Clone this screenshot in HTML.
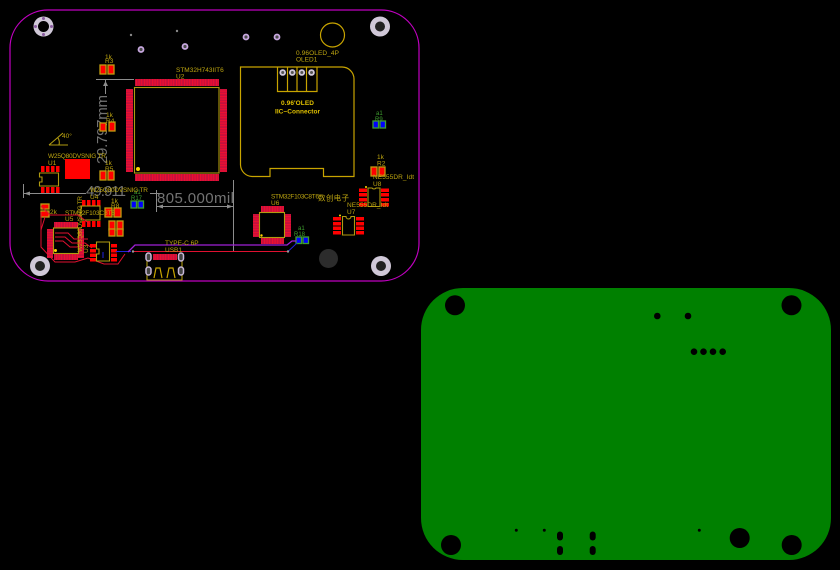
<!DOCTYPE html>
<html><head><meta charset="utf-8"><style>
html,body{margin:0;padding:0;background:#000;width:840px;height:570px;overflow:hidden}
svg{display:block}
text{font-family:"Liberation Sans","Noto Sans CJK SC",sans-serif;font-size:6.5px;fill:#bda510}
.g{fill:#737373;font-size:15px}
.l{stroke:#b09a10;fill:none;stroke-width:1.1}
.o{stroke:#c8a400;fill:none;stroke-width:1.2}
.r{fill:#f00}
.p{fill:#f00;stroke:#c09c10;stroke-width:1.300}
.b{fill:#00f;stroke:#3f9f2f;stroke-width:1.300}
.gr{fill:#3f9f2f;font-size:6px}
.v{fill:#4a4a4a;stroke:#c8a8e0;stroke-width:1.800}
.m{fill:#000}
.lil{fill:#d0c8d8}
</style></head><body>
<svg width="840" height="570" viewBox="0 0 840 570" xmlns="http://www.w3.org/2000/svg">
<defs>
<pattern id="h" width="2" height="1.6" patternUnits="userSpaceOnUse"><rect width="2" height="1.6" fill="#a01048"/><rect width="2" height="1.100" fill="#f01030"/></pattern>
<pattern id="w" width="1.6" height="2" patternUnits="userSpaceOnUse"><rect width="1.6" height="2" fill="#a01048"/><rect width="1.100" height="2" fill="#f01030"/></pattern>
</defs>
<rect width="840" height="570" fill="#000"/>

<!-- board outline -->
<rect x="10" y="10" width="409" height="271" rx="38" ry="38" fill="none" stroke="#c000c0" stroke-width="1.2"/>

<!-- mounting holes -->
<circle cx="43.5" cy="26.5" r="10" class="lil"/><circle cx="43.5" cy="26.5" r="5.500" class="m"/>
<g fill="#8a5aa0"><circle cx="43.5" cy="18.5" r="1.5"/><circle cx="43.5" cy="34.5" r="1.5"/><circle cx="35.5" cy="26.5" r="1.5"/><circle cx="51.5" cy="26.5" r="1.5"/></g>
<circle cx="380" cy="26.5" r="10" class="lil"/><circle cx="380" cy="26.5" r="5" fill="#222"/>
<circle cx="40" cy="266" r="10" class="lil"/><circle cx="40" cy="266" r="5" fill="#222"/>
<circle cx="381" cy="266" r="10" class="lil"/><circle cx="381" cy="266" r="5" fill="#222"/>
<circle cx="328.5" cy="258.5" r="9.5" fill="#2c2c2c"/>

<!-- vias -->
<circle cx="141" cy="49.5" r="2.500" class="v"/><circle cx="185" cy="46.5" r="2.500" class="v"/>
<circle cx="246" cy="37" r="2.500" class="v"/><circle cx="277" cy="37" r="2.500" class="v"/>
<circle cx="131" cy="35" r="1.2" fill="#888"/><circle cx="177" cy="31" r="1.2" fill="#888"/>

<!-- dimensions -->
<g stroke="#8c8c8c" stroke-width="1" fill="none">
<path d="M96 79.5H134M105.500 80V94"/>
<path d="M23.500 184V198M24 193.500H86M150 193.500H162"/>
<path d="M156.500 190V212M156 206.500H233M233.500 180V252"/>
</g>
<path d="M105.500 81l2.500 5h-5z" fill="#8c8c8c"/><path d="M24 193.500l6-2v4z" fill="#8c8c8c"/>
<path d="M157 206.500l6-2v4zM233 206.500l-6-2v4z" fill="#8c8c8c"/>
<text class="g" transform="translate(107,164) rotate(-90)" textLength="69">29.797mm</text>
<text class="g" x="86" y="196" textLength="40">49.911</text>
<text class="g" x="157" y="203" textLength="77">805.000mil</text>

<!-- angle -->
<path class="l" d="M49 145H68M49 145L63 133M58 138Q60 141 59 145"/>
<text x="62" y="138">40°</text>

<!-- U2 -->
<rect x="135" y="79" width="84" height="7" fill="url(#w)"/>
<rect x="135" y="174" width="84" height="7" fill="url(#w)"/>
<rect x="126" y="89" width="7" height="83" fill="url(#h)"/>
<rect x="220" y="89" width="7" height="83" fill="url(#h)"/>
<rect x="134.500" y="87.500" width="84.500" height="85.500" class="l"/>
<circle cx="138" cy="169" r="2" fill="#ffd800"/>
<text x="176" y="72">STM32H743IIT6</text><text x="176" y="78.500">U2</text>

<!-- resistors -->
<rect x="100" y="65" width="6" height="9" class="p"/><rect x="108" y="65" width="6" height="9" class="p"/>
<text x="105" y="59">1k</text><text x="105" y="63">R3</text>
<rect x="100" y="123" width="6" height="8" class="p"/><rect x="109" y="122" width="6" height="9" class="p"/>
<text x="106" y="117">1k</text><text x="106" y="123">R4</text>
<rect x="100" y="171" width="6" height="9" class="p"/><rect x="108" y="171" width="6" height="9" class="p"/>
<text x="105" y="165">1k</text><text x="105" y="171">R5</text>

<!-- U1 -->
<g class="r"><rect x="41" y="166" width="3.500" height="6"/><rect x="46" y="166" width="3.500" height="6"/><rect x="51" y="166" width="3.500" height="6"/><rect x="56" y="166" width="3.500" height="6"/>
<rect x="41" y="187" width="3.500" height="6"/><rect x="46" y="187" width="3.500" height="6"/><rect x="51" y="187" width="3.500" height="6"/><rect x="56" y="187" width="3.500" height="6"/></g>
<path class="l" d="M39.500 173H58.500V186H39.500V182H42V177H39.500Z"/>
<text x="48" y="158" textLength="58">W25Q80DVSNIG TR</text><text x="48" y="165">U1</text>
<rect x="65" y="159" width="25" height="20" class="r"/>

<!-- blue parts -->
<rect x="131" y="201" width="5.500" height="7" class="b"/><rect x="138" y="201" width="5.500" height="7" class="b"/>
<text class="gr" x="134" y="194">a1</text><text class="gr" x="131" y="200">R17</text>
<text x="90" y="192" textLength="58">W25Q80DVSNIG TR</text>
<rect x="373" y="121" width="5.500" height="7" class="b"/><rect x="380" y="121" width="5.500" height="7" class="b"/>
<text class="gr" x="376" y="115">a1</text><text class="gr" x="375" y="121">R9</text>
<rect x="296" y="237" width="5.500" height="6.500" class="b"/><rect x="303" y="237" width="5.500" height="6.500" class="b"/>
<text class="gr" x="298" y="230">a1</text><text class="gr" x="294" y="236">R18</text>

<!-- U4 -->
<g class="r"><rect x="82" y="200" width="3.500" height="6"/><rect x="87" y="200" width="3.500" height="6"/><rect x="92" y="200" width="3.500" height="6"/><rect x="97" y="200" width="3.500" height="6"/>
<rect x="82" y="221" width="3.500" height="6"/><rect x="87" y="221" width="3.500" height="6"/><rect x="92" y="221" width="3.500" height="6"/><rect x="97" y="221" width="3.500" height="6"/></g>
<rect x="81" y="206" width="19" height="14" class="l"/>
<text x="90" y="199">U4</text>

<!-- small R cluster -->
<rect x="105" y="208" width="7" height="9" class="p"/><rect x="114" y="208" width="7" height="9" class="p"/>
<text x="111" y="203">1k</text><text x="111" y="208">R8</text>
<rect x="109" y="221" width="6" height="9" class="p"/><rect x="117" y="221" width="6" height="9" class="p"/>
<rect x="109" y="229" width="6" height="7" class="p"/><rect x="117" y="229" width="6" height="7" class="p"/>

<!-- left small part -->
<rect x="41" y="204" width="8" height="5" class="p"/><rect x="41" y="211" width="8" height="6" class="p"/>
<text x="50" y="214">2k</text>
<text x="65" y="215" textLength="50">STM32F103C8T6</text><text x="65" y="221">U5</text>

<!-- U5 -->
<rect x="54" y="222" width="24" height="6" fill="url(#w)"/>
<rect x="54" y="254" width="24" height="6" fill="url(#w)"/>
<rect x="47" y="229" width="6" height="29" fill="url(#h)"/>
<rect x="78" y="229" width="6" height="29" fill="url(#h)"/>
<rect x="53.500" y="228" width="25" height="25.500" class="l"/>
<circle cx="55.500" cy="250.500" r="1.500" fill="#ffd800"/>
<text transform="translate(82,252) rotate(-90)" textLength="56">W25Q80DVSNIG TR</text>
<g stroke="#e01030" fill="none" stroke-width="1">
<path d="M41 212V247L55 262H75L88 258L104 264H118L125 254"/>
<path d="M41 206L50 215H78L90 224"/>
<path d="M55 237H65L72 243H85L92 248M55 233H68L74 239H88M55 241H63L70 247H78"/>
<path d="M45 217L41 230"/>
</g>

<!-- U3 -->
<g class="r"><rect x="90" y="244" width="6" height="3.500"/><rect x="90" y="249" width="6" height="3.500"/><rect x="90" y="253.500" width="6" height="3.500"/><rect x="90" y="258" width="6" height="3.500"/>
<rect x="111" y="244" width="6" height="3.500"/><rect x="111" y="249" width="6" height="3.500"/><rect x="111" y="253.500" width="6" height="3.500"/><rect x="111" y="258" width="6" height="3.500"/></g>
<path class="l" d="M96.500 242H109.500V261H96.500V254H99V249H96.500Z"/>
<text transform="translate(88,253) rotate(-90)">U3</text>
<path d="M116 251.500H131" stroke="#2020e0" stroke-width="1"/>
<path d="M103 252v6" stroke="#2020e0" stroke-width="1"/>

<!-- trunk traces -->
<path d="M128 252L135 245H287L292 241H296" fill="none" stroke="#a020d8" stroke-width="1.300"/>
<path d="M133 251.500H288" stroke="#e01030" stroke-width="1"/>
<path d="M288 251.500L297 243" stroke="#2020e0" stroke-width="1"/>
<circle cx="133" cy="251.500" r="1.200" fill="#999"/><circle cx="288" cy="251.500" r="1.200" fill="#999"/>

<!-- USB1 -->
<text x="165" y="245">TYPE-C 6P</text><text x="165" y="252">USB1</text>
<rect x="153" y="254" width="24" height="6" fill="url(#w)"/>
<path class="l" d="M147 260V280H182V260"/>
<path class="o" d="M154 278L156 268H160L162 278M167 278L169 268H173L175 278"/>
<g fill="#444" stroke="#c8b8d8" stroke-width="1.500"><rect x="146" y="253" width="5" height="8" rx="2.500"/><rect x="178.500" y="253" width="5" height="8" rx="2.500"/><rect x="146" y="267" width="5" height="8" rx="2.500"/><rect x="178.500" y="267" width="5" height="8" rx="2.500"/></g>

<!-- OLED -->
<circle cx="332.500" cy="35" r="12" class="o"/>
<text x="296" y="55" textLength="43">0.96OLED_4P</text><text x="296" y="61.500">OLED1</text>
<path class="o" d="M240.500 67H342A12 12 0 0 1 354 79V176.500H323.500V168.500H270V176.500H252A12 12 0 0 1 240.500 165Z"/>
<path class="o" d="M277.500 67V91.500H317V67M287.500 67V91.500M297 67V91.500M306.500 67V91.500"/>
<g class="lil"><circle cx="282.700" cy="72.500" r="3.300"/><circle cx="292.300" cy="72.500" r="3.300"/><circle cx="301.800" cy="72.500" r="3.300"/><circle cx="311.500" cy="72.500" r="3.300"/></g>
<g fill="#555"><circle cx="282.700" cy="72.500" r="1.500"/><circle cx="292.300" cy="72.500" r="1.500"/><circle cx="301.800" cy="72.500" r="1.500"/><circle cx="311.500" cy="72.500" r="1.500"/></g>
<text x="281" y="105" style="fill:#e0c000;font-weight:bold" textLength="33">0.96'OLED</text>
<text x="275" y="113.500" style="fill:#e0c000;font-weight:bold" textLength="45">IIC−Connector</text>

<!-- R2 -->
<rect x="371" y="167" width="6" height="9" class="p"/><rect x="379" y="167" width="6" height="9" class="p"/>
<text x="377" y="159">1k</text><text x="377" y="165.500">R2</text>

<!-- U8 -->
<g class="r"><rect x="359" y="188.500" width="8" height="3.500"/><rect x="359" y="193" width="8" height="3.500"/><rect x="359" y="198" width="8" height="3.500"/><rect x="359" y="203" width="8" height="3.500"/>
<rect x="381" y="188.500" width="8" height="3.500"/><rect x="381" y="193" width="8" height="3.500"/><rect x="381" y="198" width="8" height="3.500"/><rect x="381" y="203" width="8" height="3.500"/></g>
<path class="l" d="M368 188H372A2.500 2.500 0 0 0 376 188H380V206.500H368Z"/>
<circle cx="366" cy="187" r="1" fill="#ffd800"/>
<text x="373" y="179" textLength="41">NE555DR_Idt</text><text x="373" y="186">U8</text>

<!-- U7 -->
<g class="r"><rect x="333" y="217" width="8" height="3.500"/><rect x="333" y="222" width="8" height="3.500"/><rect x="333" y="226.500" width="8" height="3.500"/><rect x="333" y="231" width="8" height="3.500"/>
<rect x="356" y="217" width="8" height="3.500"/><rect x="356" y="222" width="8" height="3.500"/><rect x="356" y="226.500" width="8" height="3.500"/><rect x="356" y="231" width="8" height="3.500"/></g>
<path class="l" d="M342.500 216.500H346A2.500 2.500 0 0 0 351 216.500H354.500V235H342.500Z"/>
<circle cx="340" cy="215.500" r="1" fill="#ffd800"/>
<text x="347" y="207" textLength="41">NE555DR_Idt</text><text x="347" y="214">U7</text>

<!-- U6 -->
<rect x="261" y="206" width="23" height="6" fill="url(#w)"/>
<rect x="261" y="238" width="23" height="6" fill="url(#w)"/>
<rect x="253" y="214" width="6" height="23" fill="url(#h)"/>
<rect x="285" y="214" width="6" height="23" fill="url(#h)"/>
<rect x="259.500" y="212.500" width="25" height="25" class="l"/>
<circle cx="261.500" cy="235.500" r="1.200" fill="#ffd800"/>
<text x="271" y="198.500" textLength="48">STM32F103C8T6</text><text x="271" y="205">U6</text>
<text x="318" y="200.500" textLength="31" style="font-size:7.500px">数创电子</text>

<!-- green copper -->
<rect x="421" y="288" width="410" height="272" rx="42" ry="42" fill="#008000"/>
<g fill="#000">
<circle cx="455" cy="305.300" r="10"/><circle cx="791.500" cy="305.300" r="10"/>
<circle cx="451" cy="545" r="10"/><circle cx="791.700" cy="545" r="10"/><circle cx="739.700" cy="538" r="10"/>
<circle cx="657.300" cy="316" r="3.300"/><circle cx="688" cy="316" r="3.300"/>
<circle cx="694" cy="351.700" r="3.300"/><circle cx="703.500" cy="351.700" r="3.300"/><circle cx="713" cy="351.700" r="3.300"/><circle cx="722.700" cy="351.700" r="3.300"/>
<circle cx="516.300" cy="530.300" r="1.500"/><circle cx="544.300" cy="530.300" r="1.500"/><circle cx="699.300" cy="530.300" r="1.500"/>
<rect x="557" y="531.500" width="6" height="9" rx="3"/><rect x="589.700" y="531.500" width="6" height="9" rx="3"/>
<rect x="557" y="546" width="6" height="9" rx="3"/><rect x="589.700" y="546" width="6" height="9" rx="3"/>
</g>
</svg>
</body></html>
